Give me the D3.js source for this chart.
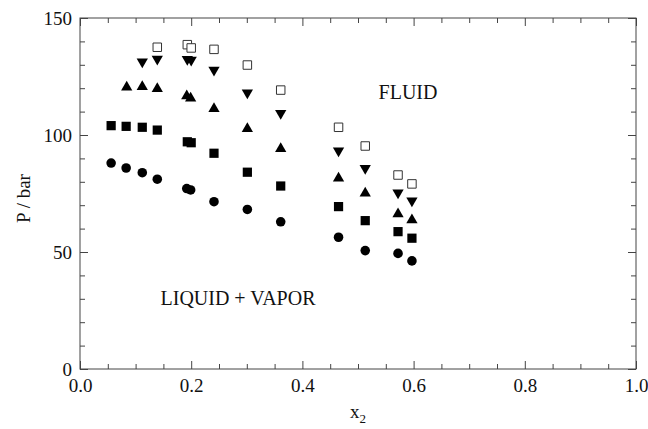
<!DOCTYPE html>
<html><head><meta charset="utf-8">
<script src="https://cdn.jsdelivr.net/npm/d3@7/dist/d3.min.js"></script>
<style>
html,body{margin:0;padding:0;background:#fff;}
svg{display:block;font-family:"Liberation Serif","Times New Roman",serif;}
</style></head>
<body><svg id="chart" width="648" height="429"></svg>
<script>
// ---- data ----
const xOpenSq   = [0.139,0.193,0.200,0.241,0.301,0.361,0.465,0.513,0.572,0.597];
const pOpenSq   = [137.5,138.6,137.2,136.6,129.9,119.2,103.3,95.3,82.9,79.1];
const xDownTri  = [0.112,0.139,0.193,0.200,0.241,0.301,0.361,0.465,0.513,0.572,0.597];
const pDownTri  = [131.3,132.5,132.4,132.1,127.8,118.1,109.3,93.3,85.8,75.3,71.9];
const xUpTri    = [0.084,0.112,0.139,0.192,0.199,0.241,0.301,0.361,0.465,0.513,0.572,0.597];
const pUpTri    = [120.4,120.6,119.8,116.7,115.7,111.2,102.7,94.1,81.5,75.1,66.2,63.7];
const xFillSq   = [0.056,0.083,0.112,0.139,0.193,0.200,0.241,0.301,0.361,0.465,0.513,0.572,0.597];
const pFillSq   = [104.0,103.7,103.3,102.1,97.1,96.7,92.2,84.1,78.2,69.4,63.4,58.7,55.9];
const xCircle   = [0.056,0.083,0.112,0.139,0.192,0.199,0.241,0.301,0.361,0.465,0.513,0.572,0.597];
const pCircle   = [88.0,85.9,83.9,81.1,77.1,76.5,71.5,68.2,62.9,56.3,50.6,49.4,46.2];
const xMajorTicks = [0,0.2,0.4,0.6,0.8,1.0];
const yMajorTicks = [0,50,100,150];
const regionLabels = ["FLUID","LIQUID + VAPOR"];

// ---- layout ----
const L=80,R=636,T=18,B=369;
const svg=d3.select("#chart");
const x=d3.scaleLinear().domain([0,1]).range([L,R]);
const y=d3.scaleLinear().domain([0,150]).range([B,T]);
const axisColor="#444";

// frame
svg.append("rect").attr("x",L).attr("y",T).attr("width",R-L).attr("height",B-T)
  .attr("fill","none").attr("stroke",axisColor).attr("stroke-width",1);

const xMinor=d3.range(0,1.0001,0.05).filter(v=>Math.abs(v/0.2-Math.round(v/0.2))>1e-6);
const yMinor=d3.range(0,150.001,10).filter(v=>v%50!==0);

function styleAxis(g){g.select(".domain").remove();g.selectAll(".tick line").attr("stroke",axisColor);}
// bottom
svg.append("g").attr("transform",`translate(0,${B})`)
  .call(d3.axisBottom(x).tickValues(xMinor).tickSize(-5).tickFormat(""))
  .call(styleAxis);
svg.append("g").attr("transform",`translate(0,${B})`)
  .call(d3.axisBottom(x).tickValues(xMajorTicks).tickSize(-8).tickPadding(10).tickFormat(d3.format(".1f")))
  .call(styleAxis)
  .call(g=>g.selectAll("text").attr("font-size",19).attr("fill","#111").attr("font-family","Liberation Serif"));
// top
svg.append("g").attr("transform",`translate(0,${T})`)
  .call(d3.axisTop(x).tickValues(xMinor).tickSize(-5).tickFormat("")).call(styleAxis);
svg.append("g").attr("transform",`translate(0,${T})`)
  .call(d3.axisTop(x).tickValues(xMajorTicks).tickSize(-8).tickFormat("")).call(styleAxis);
// left
svg.append("g").attr("transform",`translate(${L},0)`)
  .call(d3.axisLeft(y).tickValues(yMinor).tickSize(-5).tickFormat("")).call(styleAxis);
svg.append("g").attr("transform",`translate(${L},0)`)
  .call(d3.axisLeft(y).tickValues(yMajorTicks).tickSize(-8).tickPadding(8).tickFormat(d3.format("d")))
  .call(styleAxis)
  .call(g=>g.selectAll("text").attr("font-size",19).attr("fill","#111").attr("font-family","Liberation Serif"));
// right
svg.append("g").attr("transform",`translate(${R},0)`)
  .call(d3.axisRight(y).tickValues(yMinor).tickSize(-5).tickFormat("")).call(styleAxis);
svg.append("g").attr("transform",`translate(${R},0)`)
  .call(d3.axisRight(y).tickValues(yMajorTicks).tickSize(-8).tickFormat("")).call(styleAxis);

// axis titles
svg.append("text").attr("transform",`translate(30,${(T+B)/2+5}) rotate(-90)`)
  .attr("text-anchor","middle").attr("font-size",19).attr("fill","#111").text("P / bar");
const xt=svg.append("text").attr("x",(L+R)/2).attr("y",418).attr("text-anchor","middle")
  .attr("font-size",19).attr("fill","#111");
xt.append("tspan").text("x");
xt.append("tspan").attr("font-size",13).attr("dy",5).text("2");

// region labels
svg.append("text").attr("x",408).attr("y",99).attr("text-anchor","middle").attr("font-size",20).attr("fill","#111").text(regionLabels[0]);
svg.append("text").attr("x",238).attr("y",305).attr("text-anchor","middle").attr("font-size",20).attr("fill","#111").text(regionLabels[1]);

// markers
function plot(xs,ps,type,size,rot,fill,stroke){
  const sym=d3.symbol().type(type).size(size);
  svg.append("g").selectAll("path").data(xs.map((v,i)=>[v,ps[i]])).join("path")
    .attr("d",sym)
    .attr("transform",d=>`translate(${x(d[0])},${y(d[1])}) rotate(${rot})`)
    .attr("fill",fill).attr("stroke",stroke).attr("stroke-width",1);
}
plot(xCircle,pCircle,d3.symbolCircle,72,0,"#000","none");
plot(xFillSq,pFillSq,d3.symbolSquare,85,0,"#000","none");
plot(xUpTri,pUpTri,d3.symbolTriangle,55,0,"#000","none");
plot(xDownTri,pDownTri,d3.symbolTriangle,55,180,"#000","none");
plot(xOpenSq,pOpenSq,d3.symbolSquare,72,0,"#fff","#333");
</script></body></html>
